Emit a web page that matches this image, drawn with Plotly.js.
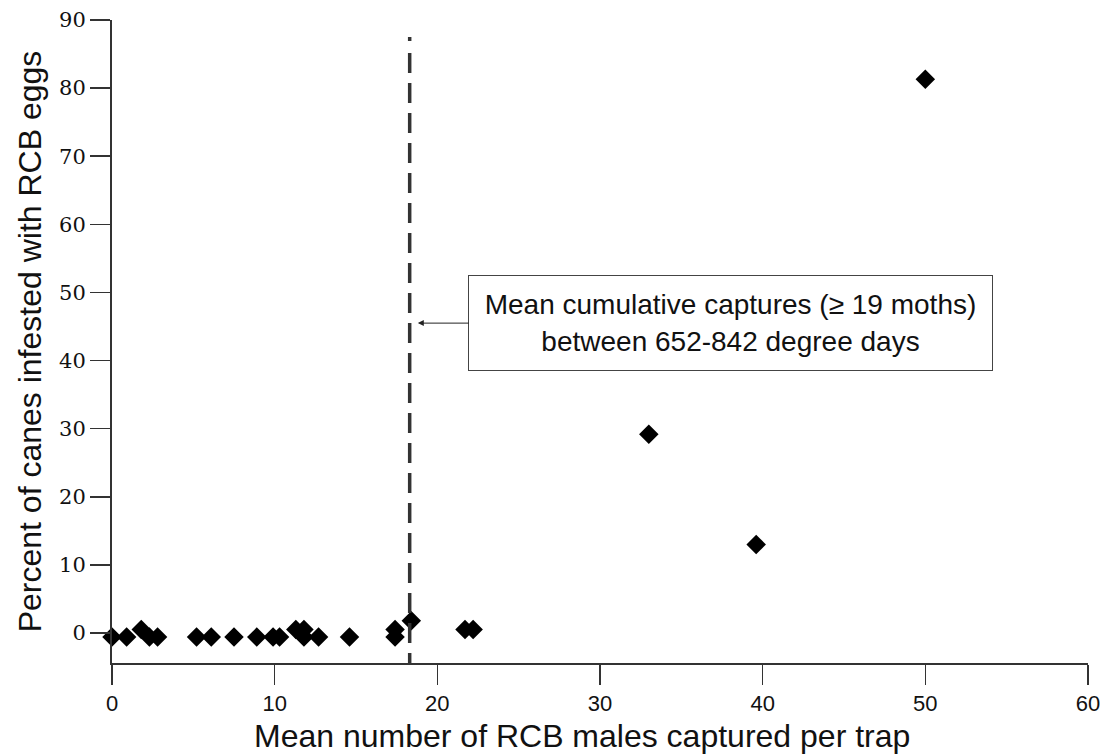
<!DOCTYPE html>
<html><head><meta charset="utf-8">
<script src="https://cdn.plot.ly/plotly-3.0.1.min.js"></script>
<style>html,body{margin:0;padding:0;background:#fff}#chart{width:1108px;height:755px}</style>
</head><body><div id="chart"></div>
<script>
// Mean number of RCB males captured per trap
const malesPerTrap = [0, 0.9, 1.8, 2.3, 2.8, 5.2, 6.1, 7.5, 8.9, 9.9, 10.3, 11.3, 11.8, 11.8, 12.7, 14.6, 17.4, 17.4, 18.4, 21.7, 22.2, 33.0, 39.6, 50.0];
// Percent of canes infested with RCB eggs
const pctInfested = [-0.6, -0.6, 0.5, -0.6, -0.6, -0.6, -0.6, -0.6, -0.6, -0.6, -0.6, 0.5, 0.5, -0.6, -0.6, -0.6, 0.5, -0.6, 1.8, 0.5, 0.5, 29.2, 13.0, 81.3];
const thresholdX = 18.3;
const thresholdTop = 87.5;
const yMin = -4.4;
const xTicks = [0, 10, 20, 30, 40, 50, 60];
const yTicks = [0, 10, 20, 30, 40, 50, 60, 70, 80, 90];
const xTitle = 'Mean number of RCB males captured per trap';
const yTitle = 'Percent of canes infested with RCB eggs';
const noteText = 'Mean cumulative captures (≥ 19 moths)<br>between 652-842 degree days';
const noteArrowX = 18.8, noteArrowY = 45.5;

const axisColor = '#333';
const sans = '"Liberation Sans", Arial, sans-serif';
const trace = {
  x: malesPerTrap, y: pctInfested, type: 'scatter', mode: 'markers',
  marker: {symbol: 'diamond', size: 15, color: '#000'},
  cliponaxis: false, hoverinfo: 'x+y'
};
const dashPattern = ['4px', '12px'].concat(Array(34).fill(['20px', '10px']).flat()).join(',');
const layout = {
  width: 1108, height: 755,
  margin: {l: 112, r: 20, t: 20, b: 92},
  paper_bgcolor: '#fff', plot_bgcolor: '#fff',
  showlegend: false,
  xaxis: {
    range: [0, 60], tickvals: xTicks, ticktext: xTicks.map(String),
    showgrid: false, zeroline: false, showline: true, linecolor: axisColor, linewidth: 2,
    ticks: 'outside', ticklen: 20, tickwidth: 1.5, tickcolor: axisColor,
    tickfont: {family: sans, size: 22, color: '#111'}
  },
  yaxis: {
    range: [yMin, 90], tickvals: yTicks, ticktext: yTicks.map(String),
    showgrid: false, zeroline: false, showline: true, linecolor: axisColor, linewidth: 2,
    ticks: 'outside', ticklen: 20, tickwidth: 1.5, tickcolor: axisColor,
    tickfont: {family: '"DejaVu Serif", serif', size: 21, color: '#111'},
    title: {text: yTitle, standoff: 8,
      font: {family: sans, size: 32, color: '#111'}}
  },
  shapes: [{
    type: 'line', xref: 'x', yref: 'y', x0: thresholdX, x1: thresholdX, y0: thresholdTop, y1: yMin,
    line: {color: '#333', width: 3.5, dash: dashPattern}
  }],
  annotations: [{
    xref: 'x', yref: 'y', x: noteArrowX, y: noteArrowY,
    ax: 313, ay: 0, showarrow: true, arrowhead: 2, arrowsize: 1.2, arrowwidth: 1, arrowcolor: '#222',
    text: noteText, align: 'center',
    font: {family: sans, size: 28, color: '#111'},
    bordercolor: '#444', borderwidth: 1, borderpad: 7, bgcolor: '#fff',
    width: 509, height: 80
  }, {
    xref: 'paper', yref: 'paper', x: 0.4816, y: -0.113, xanchor: 'center', yanchor: 'middle',
    showarrow: false, text: xTitle,
    font: {family: sans, size: 32, color: '#111'}
  }]
};
Plotly.newPlot('chart', [trace], layout, {displayModeBar: false, staticPlot: true});
</script></body></html>
